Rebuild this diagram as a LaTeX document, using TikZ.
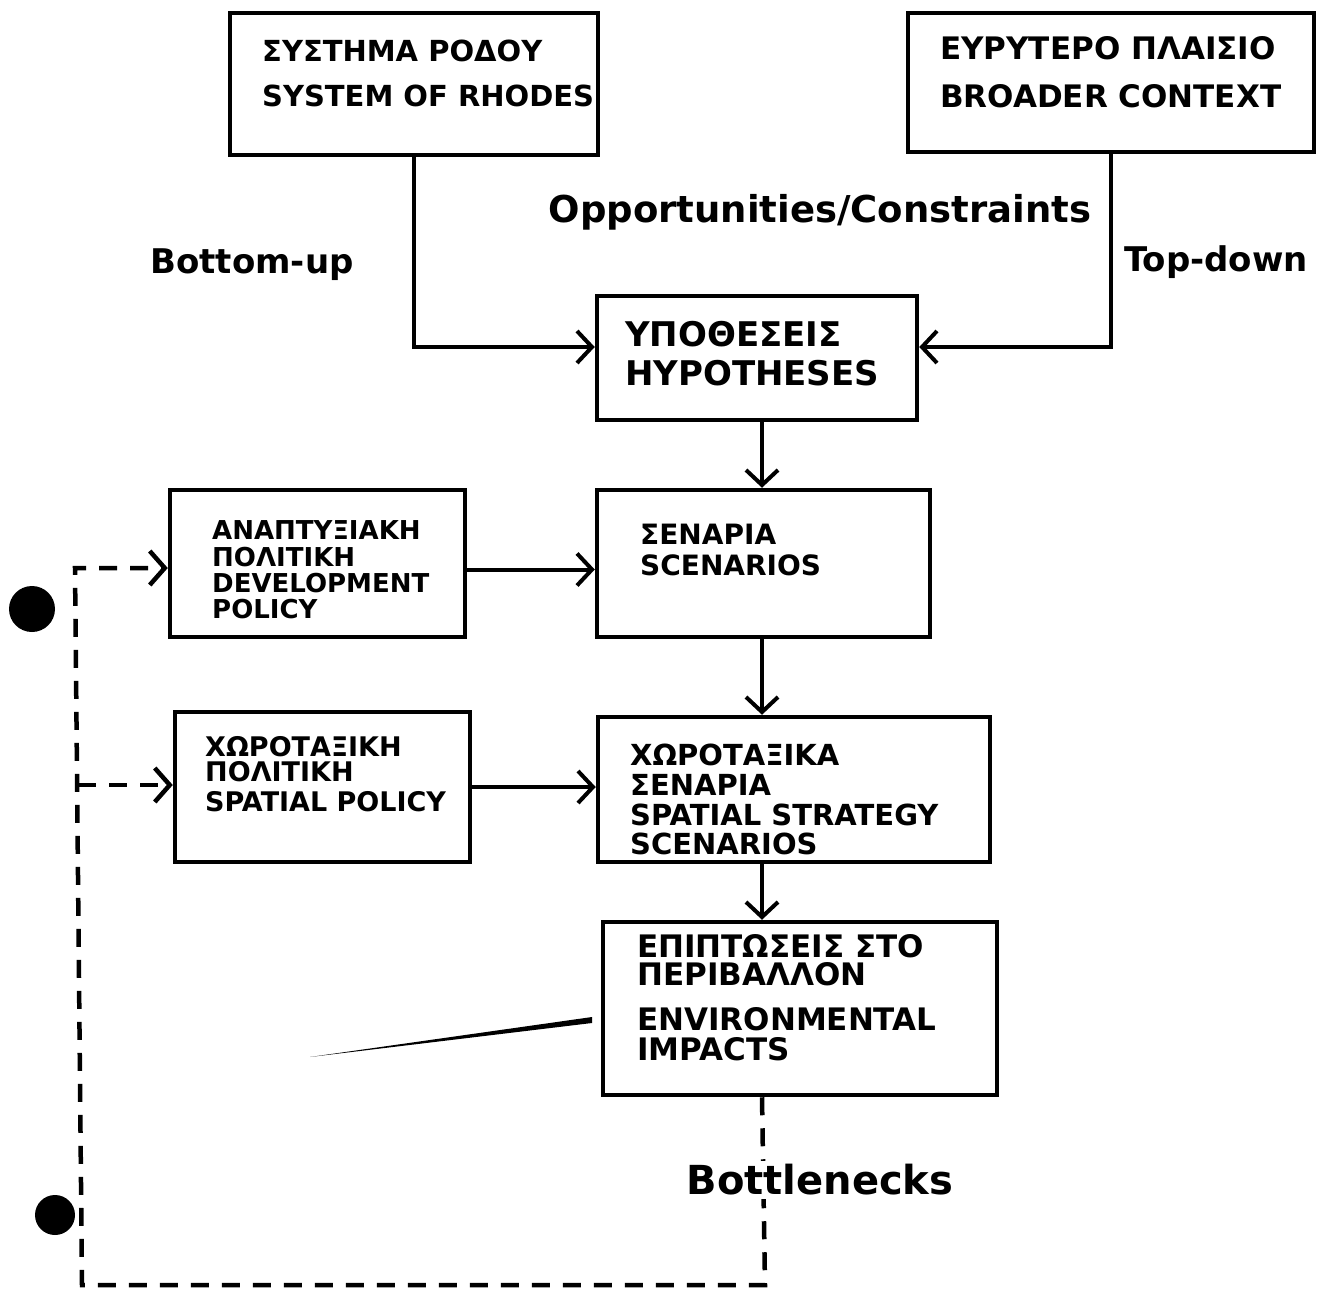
\documentclass[tikz,border=0pt]{standalone}
\usepackage{fontspec}
\usetikzlibrary{arrows.meta}
\newfontfamily\hand{DejaVu Sans}
\newcommand{\fs}[1]{\hand\bfseries\fontsize{#1}{#1}\selectfont}
\begin{document}
\begin{tikzpicture}[x=1pt,y=-1pt,
  box/.style={draw, line width=4.5pt, inner sep=0pt},
  btxt/.style={anchor=north west, align=left, inner sep=0pt},
  lbl/.style={inner sep=0pt},
  conn/.style={line width=4pt},
  arr/.style={conn, -{Straight Barb[length=15pt,width=32pt]}},
  dsh/.style={line width=4.5pt, dash pattern=on 18pt off 13pt},
  darr/.style={dsh, -{Straight Barb[length=15pt,width=34pt]}}]
\useasboundingbox (0,0) rectangle (1333,1298);

% boxes
\node[box, minimum width=368pt, minimum height=142pt] (b1)  at (414,84) {};
\node[box, minimum width=406pt, minimum height=139pt] (b2)  at (1111,82.5) {};
\node[box, minimum width=320pt, minimum height=124pt] (hyp) at (757,358) {};
\node[box, minimum width=333pt, minimum height=147pt] (scen) at (763.5,563.5) {};
\node[box, minimum width=295pt, minimum height=147pt] (dev) at (317.5,563.5) {};
\node[box, minimum width=295pt, minimum height=150pt] (sp)  at (322.5,787) {};
\node[box, minimum width=392pt, minimum height=145pt] (ss)  at (794,789.5) {};
\node[box, minimum width=394pt, minimum height=173pt] (env) at (800,1008.5) {};

% box texts
\node[btxt, font=\fs{29}] (b1t) at (262,40) {ΣΥΣΤΗΜΑ ΡΟΔΟΥ\\[16pt]SYSTEM OF RHODES};
\node[btxt, font=\fs{31}] (b2t) at (940,36) {ΕΥΡΥΤΕΡΟ ΠΛΑΙΣΙΟ\\[17pt]BROADER CONTEXT};
\node[btxt, font=\fs{34}] (hypt) at (625,321) {ΥΠΟΘΕΣΕΙΣ\\[5pt]HYPOTHESES};
\node[btxt, font=\fs{26}] (devt) at (212,520) {ΑΝΑΠΤΥΞΙΑΚΗ\\[1pt]ΠΟΛΙΤΙΚΗ\\[0pt]DEVELOPMENT\\[0pt]POLICY};
\node[btxt, font=\fs{28}] (scent) at (640,524) {ΣΕΝΑΡΙΑ\\[3pt]SCENARIOS};
\node[btxt, font=\fs{27}] (spt) at (205,736) {ΧΩΡΟΤΑΞΙΚΗ\\[-2pt]ΠΟΛΙΤΙΚΗ\\[3pt]SPATIAL POLICY};
\node[btxt, font=\fs{29}] (sst) at (630,744) {ΧΩΡΟΤΑΞΙΚΑ\\[1pt]ΣΕΝΑΡΙΑ\\[1pt]SPATIAL STRATEGY\\[0pt]SCENARIOS};
\node[btxt, font=\fs{31}] (envt) at (637,934) {ΕΠΙΠΤΩΣΕΙΣ ΣΤΟ\\[-3pt]ΠΕΡΙΒΑΛΛΟΝ\\[14pt]ENVIRONMENTAL\\[-1pt]IMPACTS};

% free labels
\node[lbl, font=\fs{37}] (opp) at (820,212) {Opportunities/Constraints};
\node[lbl, font=\fs{34}] (bu)  at (252,265) {Bottom-up};
\node[lbl, font=\fs{34}] (td)  at (1216,262) {Top-down};

% main flow
\coordinate (spine) at (762,0);
\draw[arr] (b1.south) |- ([yshift=11pt]hyp.west);
\draw[arr] (b2.south) |- ([yshift=11pt]hyp.east);
\draw[arr] (hyp.south -| spine) -- (scen.north -| spine);
\draw[arr] ([yshift=-6pt]dev.east) -- ([yshift=-6pt]dev.east -| scen.west);
\draw[arr] (scen.south -| spine) -- (ss.north -| spine);
\draw[arr] (sp.east) -- (sp.east -| ss.west);
\draw[arr] (ss.south -| spine) -- (env.north -| spine);

% feedback loop
\coordinate (c1) at (765,1285);
\coordinate (c2) at (82,1285);
\coordinate (c3) at (75,568);
\coordinate (c4) at (78,785);
\draw[darr] (env.south -| spine) -- (c1) -- (c2) -- (c3) -- (c3 -| dev.west);
\draw[darr] (c4) -- (c4 -| sp.west);
\node[lbl, fill=white, inner sep=4pt, font=\fs{40}] (bn) at (820,1180) {Bottlenecks};

% markers and stray stroke
\fill (32,609) circle (23pt);
\fill (55,1215) circle (20pt);
\fill (310,1057) -- (592,1017) -- (592,1023) -- cycle;
\end{tikzpicture}
\end{document}
